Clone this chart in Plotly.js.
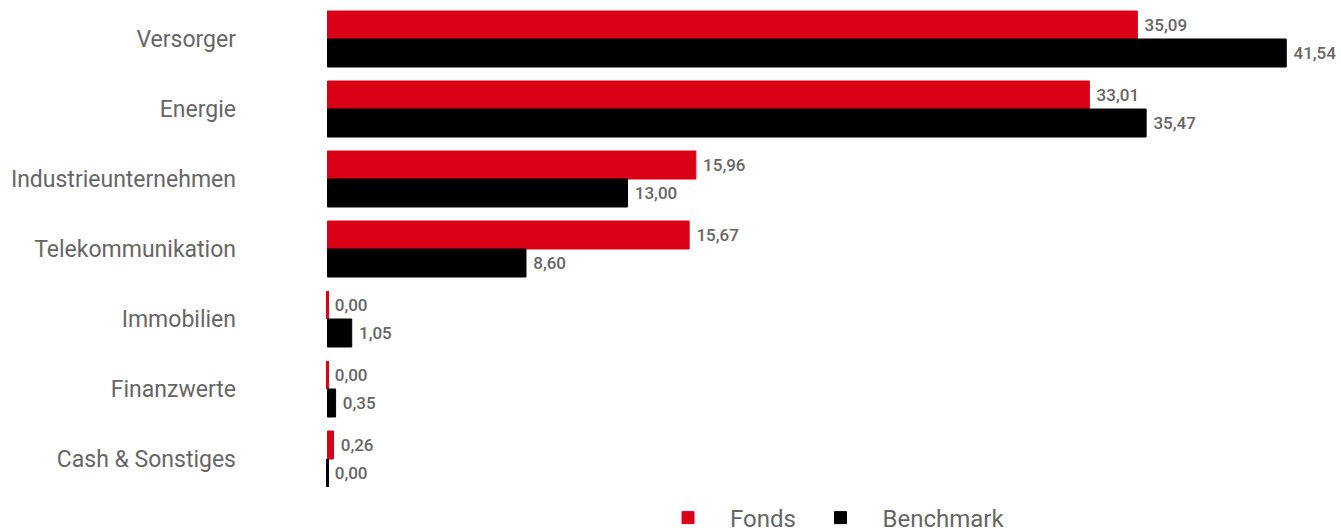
<!DOCTYPE html>
<html>
<head>
<meta charset="utf-8">
<script src="https://cdn.plot.ly/plotly-3.0.1.min.js"></script>
<style>html,body{margin:0;padding:0;background:#fff;}#chart{width:1341px;height:531px;}</style>
</head>
<body>
<div id="chart"></div>
<script>
const categories = ["Versorger", "Energie", "Industrieunternehmen", "Telekommunikation", "Immobilien", "Finanzwerte", "Cash & Sonstiges"];
const fonds = [35.09, 33.01, 15.96, 15.67, 0.00, 0.00, 0.26];
const benchmark = [41.54, 35.47, 13.00, 8.60, 1.05, 0.35, 0.00];
const seriesNames = ["Fonds", "Benchmark"];

const FONT = "Roboto, 'Liberation Sans', sans-serif";
const labelFont = {family: FONT, size: 17, color: "#666666", weight: 500};
// zero-valued bars are shown as a thin stroke, like in the original
const strokeFor = vals => vals.map(v => (v === 0 ? 3 : 1));

const traces = [
  {
    type: "bar", orientation: "h", name: seriesNames[0], legend: "legend",
    y: categories, x: fonds,
    marker: {color: "#DA0016", line: {color: "#DA0016", width: strokeFor(fonds)}},
    texttemplate: "\u00a0%{x:.2f}", textposition: "outside", cliponaxis: false,
    textfont: labelFont, hoverinfo: "none"
  },
  {
    type: "bar", orientation: "h", name: seriesNames[1], legend: "legend2",
    y: categories, x: benchmark,
    marker: {color: "#000000", line: {color: "#000000", width: strokeFor(benchmark)}},
    texttemplate: "\u00a0%{x:.2f}", textposition: "outside", cliponaxis: false,
    textfont: labelFont, hoverinfo: "none"
  }
];

const legendStyle = {orientation: "h", xanchor: "left", y: -0.049, yanchor: "middle",
  font: {family: FONT, size: 24, color: "#666666"}, itemwidth: 74};

const layout = {
  width: 1341, height: 531,
  margin: {l: 326, r: 20, t: 4, b: 37, autoexpand: false},
  paper_bgcolor: "#ffffff", plot_bgcolor: "#ffffff",
  separators: ",.",
  barmode: "group", bargap: 0.2, bargroupgap: 0,
  font: {family: FONT, color: "#666666"},
  xaxis: {range: [-0.065, 43.046], showgrid: false, zeroline: false, showticklabels: false, showline: false, fixedrange: true},
  yaxis: {autorange: "reversed", showgrid: false, zeroline: false, showline: false, ticks: "",
          ticklabelstandoff: 89, tickfont: {family: FONT, size: 23, color: "#666666"}},
  showlegend: true,
  legend: Object.assign({}, legendStyle, {x: (646 - 326) / 995}),
  legend2: Object.assign({}, legendStyle, {x: (798.5 - 326) / 995})
};

Plotly.newPlot("chart", traces, layout, {displayModeBar: false, staticPlot: true});
</script>
</body>
</html>
